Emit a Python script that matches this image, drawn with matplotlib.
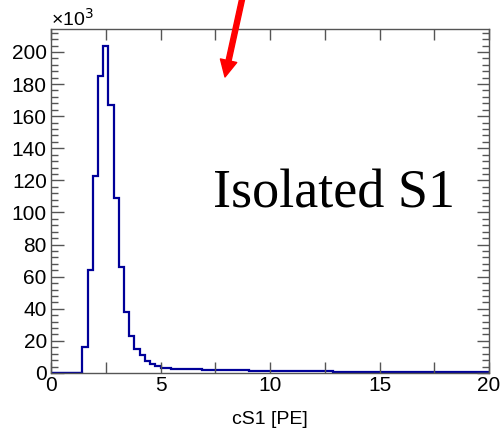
import numpy as np
import matplotlib
matplotlib.use('Agg')
import matplotlib.pyplot as plt
from matplotlib.ticker import MultipleLocator

# histogram of cS1 [PE], counts in units of 10^3, 84 bins from 0 to 20
edges = np.linspace(0, 20, 85)
counts = [0, 0, 0, 0, 0, 0,
          16, 64, 123, 185, 204, 167, 109, 66, 38, 23, 15, 11, 7.5, 5.5, 4.2,
          3.4, 3.0, 2.8, 2.6, 2.5, 2.4, 2.3, 2.2, 2.1,
          2.05, 2.0, 1.9, 1.85, 1.8, 1.75, 1.7, 1.6, 1.55, 1.5, 1.45, 1.4,
          1.35, 1.3, 1.3, 1.25, 1.2, 1.15, 1.1, 1.1, 1.05, 1.0, 0.95, 0.95,
          0.9, 0.85, 0.85, 0.8, 0.8, 0.75, 0.75, 0.7, 0.7,
          0.65, 0.65, 0.6, 0.6, 0.6, 0.55, 0.55, 0.5, 0.5, 0.5, 0.5, 0.45,
          0.45, 0.45, 0.4, 0.4, 0.4, 0.4, 0.35, 0.35, 0.35]

W, H = 503, 433
fig = plt.figure(figsize=(W / 100, H / 100), dpi=100)
ax = fig.add_axes([51 / W, 1 - 373 / H, (489 - 51) / W, (373 - 29) / H])

ax.stairs(counts, edges, color='#000099', linewidth=1.6, baseline=None)
ax.plot([edges[0], edges[6]], [0, 0], color='#000099', linewidth=1.6)

ax.set_xlim(0, 20)
ax.set_ylim(0, 214.3)
ax.xaxis.set_major_locator(MultipleLocator(5))
ax.xaxis.set_minor_locator(MultipleLocator(2.5))
ax.yaxis.set_major_locator(MultipleLocator(20))
ax.yaxis.set_minor_locator(MultipleLocator(4))
ax.tick_params(which='both', direction='in', top=True, right=True,
               color='#555555', width=1)
ax.tick_params(axis='x', which='both', length=8)
ax.tick_params(axis='y', which='major', length=9)
ax.tick_params(axis='y', which='minor', length=5)
ax.tick_params(axis='x', which='major', pad=2)
ax.tick_params(axis='y', which='major', pad=3)
for lab in ax.get_xticklabels() + ax.get_yticklabels():
    lab.set_fontfamily('Liberation Sans')
    lab.set_fontsize(15)
for s in ax.spines.values():
    s.set_color('#555555')
    s.set_linewidth(1)

ax.set_xlabel('cS1 [PE]', fontfamily='Liberation Sans', fontsize=14, labelpad=12)
fig.text(51 / W, 1 - 26 / H, '×10$^3$', fontfamily='Liberation Sans',
         fontsize=14, ha='left', va='baseline')

ax.text(455 / W, 1 - 207 / H, 'Isolated S1', transform=fig.transFigure,
        fontfamily='Liberation Serif', fontsize=39, ha='right', va='baseline')

ax.annotate('', xy=(225, H - 77), xytext=(243, H + 5), xycoords='figure pixels',
            textcoords='figure pixels', annotation_clip=False,
            arrowprops=dict(facecolor='red', edgecolor='red', width=3.6,
                            headwidth=12, headlength=12, shrink=0))

fig.savefig('out.png', dpi=100)
